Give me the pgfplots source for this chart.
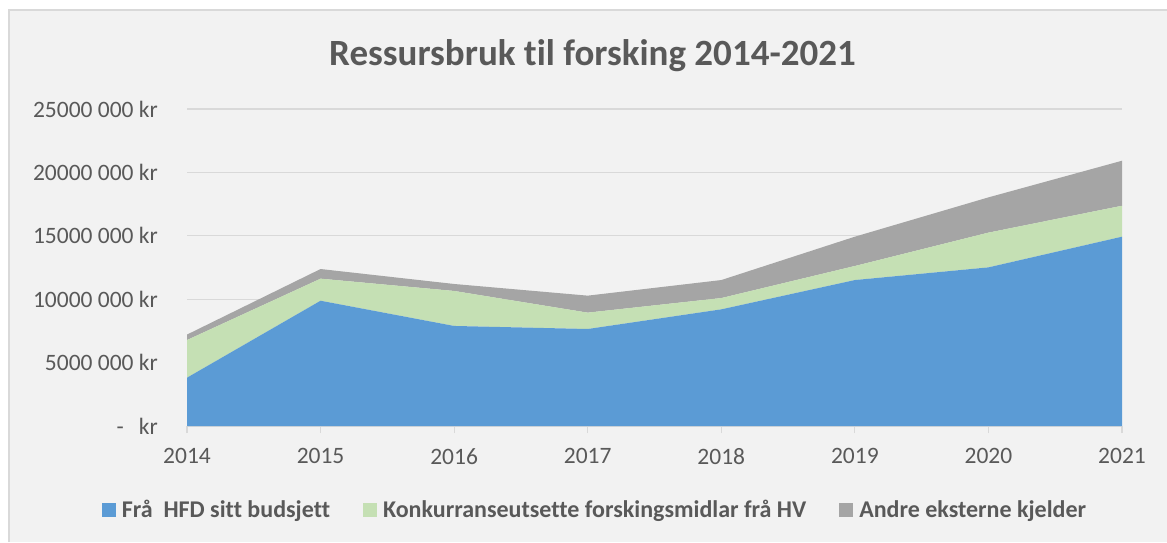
\documentclass[border=0pt]{standalone}
\usepackage{fontspec}
\setmainfont{Carlito}[Ligatures=NoCommon]
\usepackage{pgfplots}
\pgfplotsset{compat=1.18}
\definecolor{txt}{HTML}{595959}
\definecolor{gridc}{HTML}{D9D9D9}
\definecolor{bg}{HTML}{F2F2F2}
\definecolor{cblue}{HTML}{5B9BD5}
\definecolor{cgreen}{HTML}{C5E0B4}
\definecolor{cgray}{HTML}{A5A5A5}
\begin{document}
\begin{tikzpicture}[x=1pt,y=1pt]
\useasboundingbox (0,0) rectangle (1167,542);
\fill[white] (0,0) rectangle (1167,542);
\fill[bg] (9,0) rectangle (1167,532);
\draw[gridc, line width=1.2pt] (9,0) -- (9,532) -- (1167,532);
\node[anchor=base, font=\fontsize{37}{44}\selectfont\bfseries, text=txt, inner sep=0pt] at (592.5,476) {Ressursbruk til forsking 2014-2021};
\begin{axis}[
  at={(187pt,116pt)}, anchor=south west,
  scale only axis, width=935pt, height=317pt,
  xmin=2014, xmax=2021, ymin=0, ymax=25000000,
  scaled y ticks=false, scaled x ticks=false,
  stack plots=y,
  axis x line*=bottom, axis y line*=left,
  x axis line style={gridc, line width=1.2pt},
  y axis line style={draw=none},
  ymajorgrids, grid style={gridc, line width=1.2pt},
  ytick={0,5000000,10000000,15000000,20000000,25000000},
  yticklabels={{-\hspace{15pt}kr},{5000 000 kr},{10000 000 kr},{15000 000 kr},{20000 000 kr},{25000 000 kr}},
  xtick={2014,2015,2016,2017,2018,2019,2020,2021},
  xticklabels={2014,2015,2016,2017,2018,2019,2020,2021},
  ytick style={draw=none},
  xtick style={gridc, line width=1.2pt},
  tick align=outside, major tick length=7pt,
  tick label style={font=\fontsize{23.5}{28}\selectfont, text=txt},
  yticklabel style={anchor=east, inner sep=0pt, xshift=-22pt},
  xticklabel style={anchor=north, inner sep=0pt, yshift=-15pt},
  legend columns=3,
  legend image code/.code={\fill[#1] (0pt,-6.75pt) rectangle (14pt,6.75pt);},
  legend style={at={(0.4353,-0.265)}, anchor=center, draw=none, fill=none,
    font=\fontsize{24}{28}\selectfont\bfseries, text=txt,
    nodes={inner sep=0pt},
    /tikz/every odd column/.append style={column sep=6pt},
    /tikz/every even column/.append style={column sep=33pt}},
]
\addplot[fill=cblue, draw=none] coordinates {
(2014,3810000) (2015,9880000) (2016,7890000) (2017,7650000) (2018,9200000) (2019,11510000) (2020,12510000) (2021,14930000)} \closedcycle;
\addlegendentry{Frå\ \ HFD sitt budsjett}
\addplot[fill=cgreen, draw=none] coordinates {
(2014,2970000) (2015,1740000) (2016,2760000) (2017,1290000) (2018,890000) (2019,1110000) (2020,2740000) (2021,2440000)} \closedcycle;
\addlegendentry{Konkurranseutsette forskingsmidlar frå HV}
\addplot[fill=cgray, draw=none] coordinates {
(2014,430000) (2015,760000) (2016,550000) (2017,1340000) (2018,1420000) (2019,2310000) (2020,2780000) (2021,3550000)} \closedcycle;
\addlegendentry{Andre eksterne kjelder}
\end{axis}
\end{tikzpicture}
\end{document}
